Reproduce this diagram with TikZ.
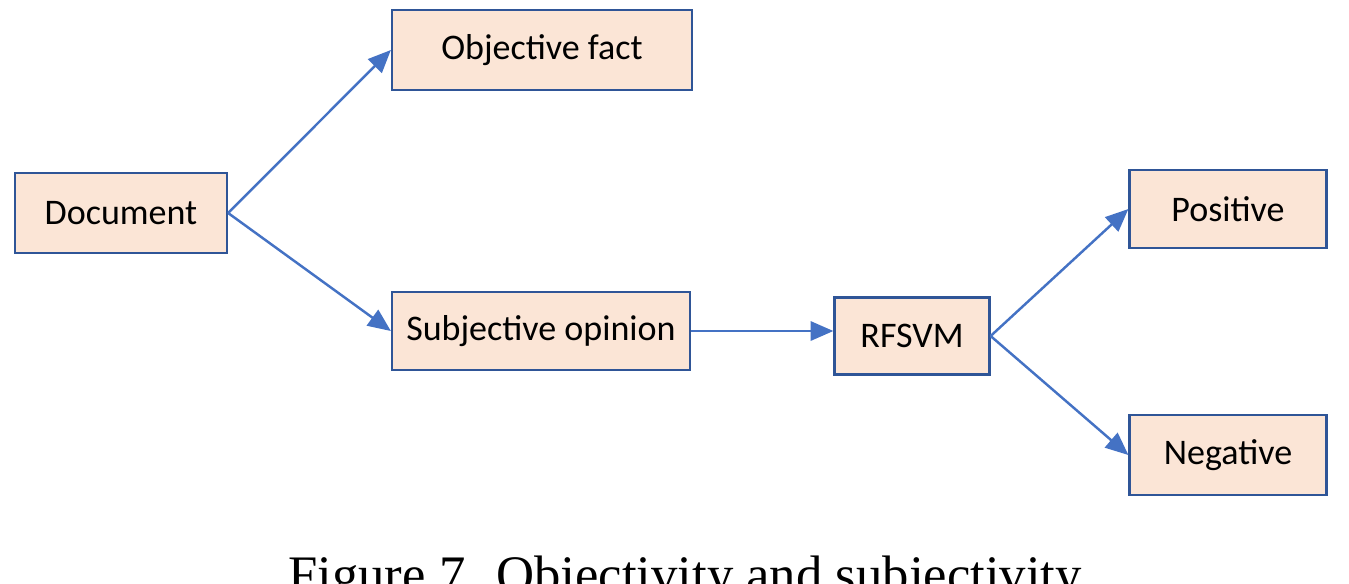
\documentclass[tikz,border=0pt]{standalone}
\usepackage{fontspec}
\setmainfont{Carlito}
\newfontfamily\capfont{Liberation Serif}
\usetikzlibrary{arrows.meta}
\definecolor{boxfill}{HTML}{FBE5D6}
\definecolor{boxline}{HTML}{2F5597}
\definecolor{arr}{HTML}{4472C4}
\begin{document}
\begin{tikzpicture}[x=0.02cm,y=-0.02cm,
  box/.style={draw=boxline,line width=1.3pt,fill=boxfill,inner sep=0pt,font=\fontsize{20.5}{24}\selectfont},
  conn/.style={draw=arr,line width=1.4pt,-{Triangle[length=13pt,width=11pt]}}]
\useasboundingbox (0,0) rectangle (1349,583);
\clip (0,0) rectangle (1349,583);
\node[box,minimum width=4.24cm,minimum height=1.6cm] (doc) at (121,213) {Document};
\node[box,minimum width=6cm,minimum height=1.6cm] (obj) at (542,50) {Objective fact};
\node[box,minimum width=5.96cm,minimum height=1.56cm] (sub) at (541,331) {Subjective opinion};
\node[box,minimum width=3.1cm,minimum height=1.54cm] (rf) at (912,336) {RFSVM};
\node[box,minimum width=3.94cm,minimum height=1.56cm] (pos) at (1228,209) {Positive};
\node[box,minimum width=3.94cm,minimum height=1.6cm] (neg) at (1228,455) {Negative};
\draw[conn] (doc.east) -- (obj.west);
\draw[conn] (doc.east) -- (sub.west);
\draw[conn] (sub.east) -- (sub.east -| rf.west);
\draw[conn] (rf.east) -- (pos.west);
\draw[conn] (rf.east) -- (neg.west);
\node[anchor=base,font=\capfont\fontsize{30}{34}\selectfont,inner sep=0pt] (cap) at (685,592) {Figure 7. Objectivity and subjectivity};
\end{tikzpicture}
\end{document}
